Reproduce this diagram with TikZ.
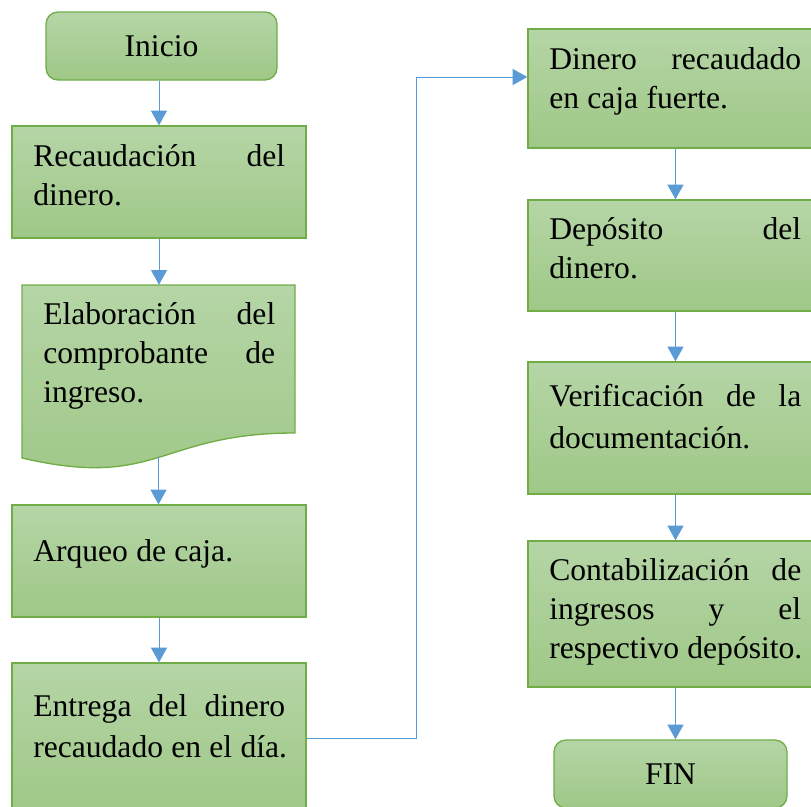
\documentclass[tikz,border=0pt]{standalone}
\usepackage{fontspec}
\setmainfont{Liberation Serif}
\usetikzlibrary{arrows.meta}
\definecolor{gtop}{RGB}{181,213,166}
\definecolor{gbot}{RGB}{159,200,135}
\definecolor{gline}{RGB}{112,173,71}
\definecolor{arr}{RGB}{91,155,213}
\newcommand{\boxfont}[1]{\fontsize{23.7}{#1}\selectfont}
\newcommand{\ws}{\hspace{6.2pt}}
\begin{document}
\begin{tikzpicture}[x=0.75pt,y=-0.75pt,
  box/.style={draw=gline, line width=1pt, top color=gtop, bottom color=gbot,
    inner sep=0pt, minimum width=220.5pt, minimum height=84pt},
  rbox/.style={box, minimum width=221.25pt},
  term/.style={box, rounded corners=9pt, minimum width=173.25pt, minimum height=51pt,
    font=\boxfont{29.5}},
  txt/.style={anchor=base west, inner sep=0pt, text width=189pt,
    font=\boxfont{29.5}},
  flow/.style={draw=arr, line width=0.75pt, -{Triangle[length=11pt,width=12pt]}}]
\useasboundingbox (0,0) rectangle (811,807);
\clip (0,0) rectangle (811,807);
\fill[white] (0,0) rectangle (811,807);

% left column
\node[term] (inicio) at (161.5,46) {Inicio};
\node[box] (recaud) at (159,182) {};
\node[inner sep=0pt, minimum width=204.75pt, minimum height=138.75pt] (elab) at (158.5,377.5) {};
\path[draw=gline, line width=1pt, top color=gtop, bottom color=gbot]
  (22,285) -- (295,285) -- (295,433) .. controls (158.5,433) and (158.5,489.8) .. (22,458) -- cycle;
\coordinate (elabout) at (158.5,457);
\node[box] (arqueo) at (159,561) {};
\node[box, minimum height=112.5pt] (entrega) at (159,738) {};

% right column
\node[rbox, minimum height=89.25pt] (dinero) at (675.5,88.5) {};
\node[rbox, minimum height=83.25pt] (deposito) at (675.5,255.5) {};
\node[rbox, minimum height=99pt] (verif) at (675.5,428) {};
\node[rbox, minimum height=109.5pt] (contab) at (675.5,614) {};
\node[term, minimum width=174.75pt] (fin) at (670.5,774) {FIN};

% texts
\node[txt] (t1) at (33,166) {Recaudación\hfill del\\\mbox{dinero.}};
\node[txt, text width=174pt] (t2) at (43,324) {Elaboración\hfill del\\comprobante\hfill de\\\mbox{ingreso.}};
\node[txt] (t3) at (33,561) {\mbox{Arqueo\ws de\ws caja.}};
\node[txt, font=\boxfont{30.75}] (t4) at (33,716) {Entrega\hfill del\hfill dinero\\\mbox{recaudado\ws en\ws el\ws día.}};
\node[txt] (t5) at (549,69) {Dinero\hfill recaudado\\\mbox{en\ws caja\ws fuerte.}};
\node[txt] (t6) at (549,239) {Depósito\hfill del\\\mbox{dinero.}};
\node[txt, font=\boxfont{31.5}] (t7) at (549,406) {Verificación\hfill de\hfill la\\\mbox{documentación.}};
\node[txt] (t8) at (549,580) {Contabilización\hfill de\\ingresos\hfill y\hfill el\\\mbox{respectivo\ws depósito.}};

% connectors
\coordinate (c1) at (416,77);
\draw[flow] (inicio.south -| recaud.north) -- (recaud.north);
\draw[flow] (recaud.south) -- (recaud.south |- elab.north);
\draw[flow] (elabout) -- (elabout |- arqueo.north);
\draw[flow] (arqueo.south) -- (entrega.north);
\draw[flow] (entrega.east) -| (c1) -- (dinero.west |- c1);
\draw[flow] (dinero.south) -- (deposito.north);
\draw[flow] (deposito.south) -- (verif.north);
\draw[flow] (verif.south) -- (contab.north);
\draw[flow] (contab.south) -- (contab.south |- fin.north);
\end{tikzpicture}
\end{document}
